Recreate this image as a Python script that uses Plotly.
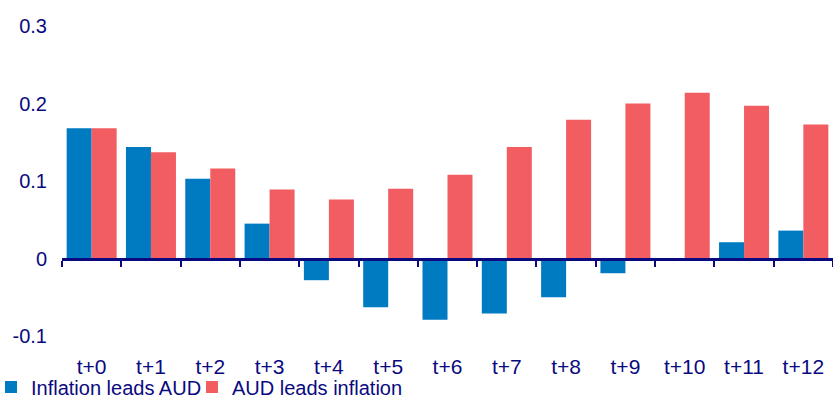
import plotly.graph_objects as go

# Lead/lag correlations between inflation and the AUD
lags = ["t+0", "t+1", "t+2", "t+3", "t+4", "t+5", "t+6",
        "t+7", "t+8", "t+9", "t+10", "t+11", "t+12"]
inflation_leads_aud = [0.168, 0.144, 0.103, 0.045, -0.028, -0.063, -0.079,
                       -0.071, -0.050, -0.019, 0.0, 0.021, 0.036]
aud_leads_inflation = [0.168, 0.137, 0.116, 0.089, 0.076, 0.090, 0.108,
                       0.144, 0.179, 0.200, 0.214, 0.197, 0.173]

y_ticks = [-0.1, 0.0, 0.1, 0.2, 0.3]
y_tick_text = ["-0.1", "0", "0.1", "0.2", "0.3"]

BLUE = "#007AC1"
RED = "#F15D60"
NAVY = "#0A0A80"
FONT = "Liberation Sans, Arial, sans-serif"

W, H = 833, 399
M_L, M_R, M_T, M_B = 62, 0, 26, 63
plot_w = W - M_L - M_R
plot_h = H - M_T - M_B

y_range = [-0.1, 0.3]
zero_pos = (0 - y_range[0]) / (y_range[1] - y_range[0])
n = len(lags)
boundaries = [i - 0.5 for i in range(n + 1)]


def px_to_paper_x(px):
    return (px - M_L) / plot_w


def px_to_paper_y(py):
    return (H - M_B - py) / plot_h


fig = go.Figure()
fig.add_trace(go.Bar(x=list(range(n)), y=inflation_leads_aud,
                     name="Inflation leads AUD", marker_color=BLUE,
                     marker_line_width=0, legend="legend"))
fig.add_trace(go.Bar(x=list(range(n)), y=aud_leads_inflation,
                     name="AUD leads inflation", marker_color=RED,
                     marker_line_width=0, legend="legend2"))

legend_style = dict(
    orientation="h", xanchor="left", yanchor="middle",
    y=px_to_paper_y(387),
    font=dict(size=20, color=NAVY), bgcolor="rgba(0,0,0,0)",
    itemwidth=30, tracegroupgap=0,
)

fig.update_layout(
    width=W, height=H,
    margin=dict(l=M_L, r=M_R, t=M_T, b=M_B, autoexpand=False),
    paper_bgcolor="white", plot_bgcolor="white",
    barmode="group", bargap=0.157, bargroupgap=0,
    font=dict(family=FONT, size=20, color=NAVY),
    xaxis=dict(
        range=[-0.5, n - 0.5], tickvals=list(range(n)), ticktext=lags,
        showline=False, showgrid=False, zeroline=False, ticks="",
        ticklabelstandoff=16, tickfont=dict(size=21, color=NAVY),
    ),
    # horizontal axis line drawn through zero, with ticks between groups
    xaxis2=dict(
        overlaying="x", matches="x", anchor="free", position=zero_pos,
        side="bottom", range=[-0.5, n - 0.5],
        tickvals=boundaries, showticklabels=False,
        showline=True, linecolor=NAVY, linewidth=3,
        ticks="outside", ticklen=6, tickwidth=2, tickcolor=NAVY,
        showgrid=False, zeroline=False,
    ),
    yaxis=dict(
        range=y_range, tickvals=y_ticks, ticktext=y_tick_text,
        showline=False, showgrid=False, zeroline=False, ticks="",
        ticklabelstandoff=14, tickfont=dict(size=20, color=NAVY),
    ),
    legend=dict(legend_style, x=px_to_paper_x(-9)),
    legend2=dict(legend_style, x=px_to_paper_x(192)),
)

# attach an invisible trace so the zero-line axis is rendered
fig.add_trace(go.Scatter(x=[-0.5], y=[0], xaxis="x2", mode="markers",
                         marker=dict(opacity=0), showlegend=False,
                         hoverinfo="skip"))

fig.write_html("out.html")
